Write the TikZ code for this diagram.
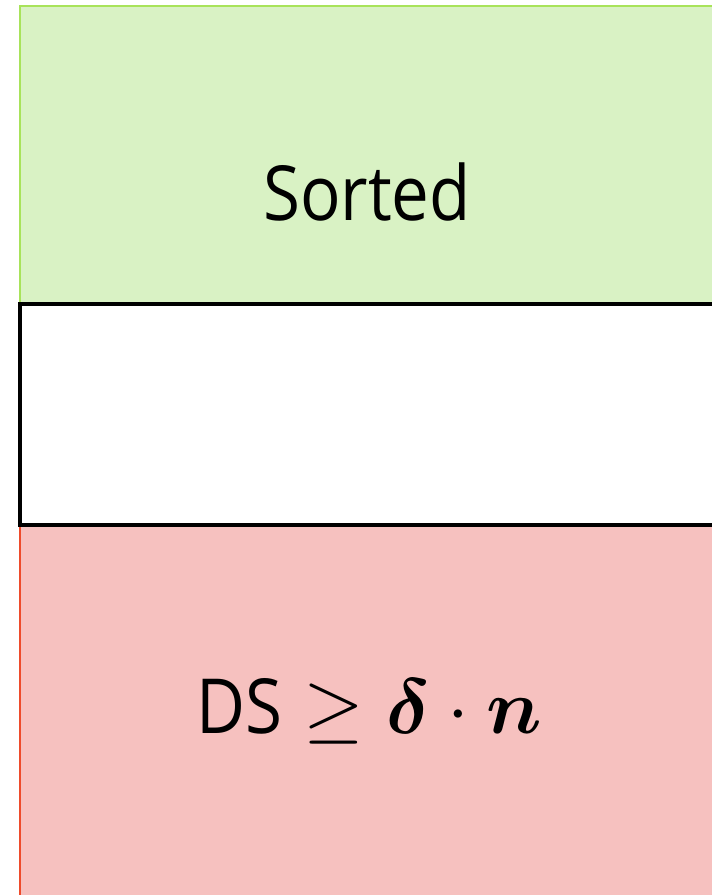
\documentclass[tikz,border=0pt]{standalone}
\usepackage{amsmath}
\usepackage{bm}
\usepackage{graphicx}
\usepackage{fontspec}
\setmainfont{Open Sans}
\definecolor{sortfill}{HTML}{D9F2C4}
\definecolor{sortline}{HTML}{A8E35A}
\definecolor{dsfill}{HTML}{F6C1BF}
\definecolor{dsline}{HTML}{EE4B2B}
% narrowed sans text and enlarged math for the labels
\newcommand{\bandword}[1]{\scalebox{0.885}[1]{#1}}
\newcommand{\bandmath}[1]{\scalebox{7.8}{\fontsize{10}{12}\selectfont$#1$}}
\tikzset{
  band/.style={line width=2.5pt},
  midband/.style={draw=black, fill=white, line width=4pt},
  bigtext/.style={font=\fontsize{76}{90}\selectfont, anchor=base, inner sep=0pt}
}
\begin{document}
\begin{tikzpicture}[x=1pt,y=-1pt]
  \useasboundingbox (0,0) rectangle (712,895);
  % sorted region (top)
  \path[band, draw=sortline, fill=sortfill] (20,6) rectangle (730,304);
  % region with large distance (bottom)
  \path[band, draw=dsline, fill=dsfill] (20,525) rectangle (730,910);
  % middle band
  \path[midband] (20,304) rectangle (730,525);
  \node[bigtext] (sorted) at (367,220) {\bandword{Sorted}};
  \node[bigtext] (ds) at (369,733) {\bandword{DS}\bandmath{\;\geq\boldsymbol{\delta}\cdot\boldsymbol{n}}};
\end{tikzpicture}
\end{document}
